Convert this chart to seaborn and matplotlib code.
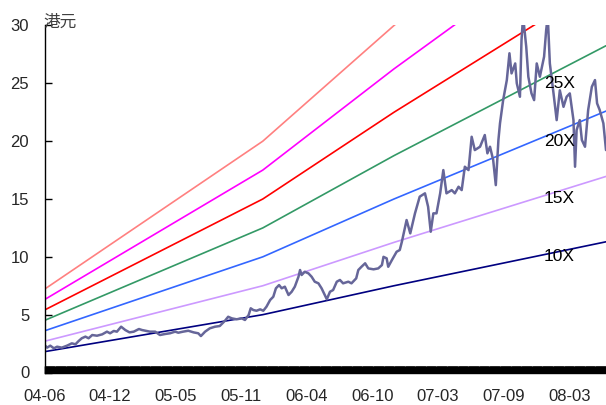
import numpy as np
import pandas as pd
import matplotlib
matplotlib.use("Agg")
import matplotlib.pyplot as plt
import seaborn as sns

# ---- data ----
tick_labels = ["04-06", "04-12", "05-05", "05-11", "06-04", "06-10", "07-03", "07-09", "08-03"]
tick_step = 125          # trading days between labels
last_day = 1070

price_days = [0, 5, 11, 18, 24, 33, 43, 52, 59, 65, 71, 78, 84, 91, 100, 110, 119, 125, 132, 138,
              146, 154, 162, 170, 180, 186, 195, 201, 211, 220, 230, 239, 249, 255, 264, 274, 284, 293,
              298, 306, 315, 325, 334, 344, 350, 357, 366, 376, 382, 389, 393, 398, 404, 411, 417, 423,
              430, 436, 441, 447, 452, 458, 465, 471, 477, 484, 487, 490, 496, 503, 509, 515, 522, 528,
              534, 538, 544, 550, 557, 563, 569, 579, 585, 594, 598, 604, 611, 617, 627, 636, 643, 646,
              652, 655, 662, 671, 677, 681, 690, 697, 706, 715, 725, 731, 736, 741, 747, 754, 760, 766,
              776, 782, 789, 795, 801, 808, 814, 820, 830, 839, 844, 849, 855, 860, 865, 868, 874, 881,
              886, 890, 897, 900, 906, 909, 912, 918, 922, 928, 933, 938, 944, 952, 956, 959, 963, 970,
              976, 982, 989, 995, 1001, 1008, 1011, 1014, 1020, 1024, 1030, 1036, 1043, 1049, 1053,
              1058, 1065, 1070]
price = [2.38, 2.15, 2.32, 2.09, 2.23, 2.15, 2.32, 2.52, 2.44, 2.72, 2.96, 3.10, 2.96, 3.24, 3.18,
         3.30, 3.53, 3.39, 3.59, 3.53, 3.96, 3.67, 3.47, 3.53, 3.76, 3.67, 3.59, 3.53, 3.53, 3.24,
         3.33, 3.39, 3.53, 3.44, 3.53, 3.61, 3.47, 3.39, 3.15, 3.53, 3.82, 3.96, 4.02, 4.48, 4.82,
         4.68, 4.60, 4.68, 4.54, 4.97, 5.55, 5.40, 5.34, 5.46, 5.34, 5.69, 6.27, 6.55, 7.28, 7.56,
         7.28, 7.42, 6.70, 6.98, 7.42, 8.28, 8.86, 8.43, 8.71, 8.57, 8.28, 7.85, 7.71, 7.28, 6.70,
         6.33, 6.98, 7.13, 7.85, 8.00, 7.71, 7.85, 7.71, 8.14, 8.86, 9.14, 9.44, 9.00, 8.92, 9.00,
         9.29, 10.0, 9.87, 9.14, 9.72, 10.44, 10.59, 11.3, 13.18, 12.03, 13.76, 15.2, 15.49, 14.33,
         12.17, 13.76, 13.76, 15.49, 17.5, 15.49, 15.77, 15.49, 16.06, 15.77, 17.79, 17.5, 20.38,
         19.23, 19.52, 20.53, 18.95, 19.52, 18.37, 16.2, 20.1, 21.54, 23.55, 25.28, 27.6, 25.86,
         26.72, 25.0, 23.84, 28.74, 30.8, 28.16, 25.57, 24.13, 23.55, 26.72, 25.57, 27.3, 29.6,
         30.8, 26.72, 24.13, 21.82, 24.4, 22.97, 23.84, 24.13, 21.82, 17.79, 20.96, 21.82, 20.1,
         19.52, 22.69, 24.7, 25.28, 23.27, 22.69, 21.54, 19.23]

eps_days = [0, 416, 666, 1070]
eps = [0.18, 0.50, 0.75, 1.13]

multiples = [40, 35, 30, 25, 20, 15, 10]
band_colors = ["#FF8080", "#FF00FF", "#FF0000", "#339966", "#3366FF", "#CC99FF", "#000080"]
labeled_multiples = [25, 20, 15, 10]
label_day = 952

# ---- build frames ----
band_df = pd.DataFrame([
    {"day": d, "value": e * m, "mult": f"{m}X"}
    for m in multiples for d, e in zip(eps_days, eps)
])
price_df = pd.DataFrame({"day": price_days, "price": price})

sns.set_theme(style="white")
plt.rcParams["font.family"] = ["Liberation Sans", "Noto Sans CJK SC", "DejaVu Sans"]

fig = plt.figure(figsize=(6.06, 4.05), dpi=100)
ax = fig.add_axes([44.5 / 606, 1 - 372.5 / 405, 1 - 44.5 / 606, (372.5 - 25.5) / 405])

sns.lineplot(data=band_df, x="day", y="value", hue="mult",
             palette=dict(zip([f"{m}X" for m in multiples], band_colors)),
             linewidth=1.2, legend=False, ax=ax)
sns.lineplot(data=price_df, x="day", y="price", color="#666699", linewidth=1.8,
             legend=False, ax=ax)

for m in labeled_multiples:
    ax.text(label_day, m, f"{m}X", ha="left", va="center", fontsize=12.5, color="black")

ax.set_xlim(0, last_day)
ax.set_ylim(0, 30)
ax.set_yticks(range(0, 31, 5))
ax.set_xticks([i * tick_step for i in range(len(tick_labels))])
ax.set_xticklabels(tick_labels)
ax.set_xticks(np.arange(0, last_day + 1, 1), minor=True)
ax.set_xlabel("")
ax.set_ylabel("")

for s in ["top", "right"]:
    ax.spines[s].set_visible(False)
for s in ["left", "bottom"]:
    ax.spines[s].set_color("black")
    ax.spines[s].set_linewidth(1.0)

ax.tick_params(axis="y", direction="in", length=5, width=1, color="black",
               labelsize=12, pad=11, left=True)
ax.tick_params(axis="x", which="major", direction="in", length=5, width=1, color="black",
               labelsize=12, pad=12, bottom=True)
ax.tick_params(axis="x", which="minor", direction="in", length=5, width=1, color="black",
               bottom=True)

ax.annotate("港元", xy=(0.0, 1.0), xycoords="axes fraction", xytext=(-1, -4),
            textcoords="offset points", ha="left", va="bottom",
            fontsize=12, color="#404040", family=["Noto Sans CJK SC", "DejaVu Sans"],
            annotation_clip=False)

fig.savefig("out.png", dpi=100)
